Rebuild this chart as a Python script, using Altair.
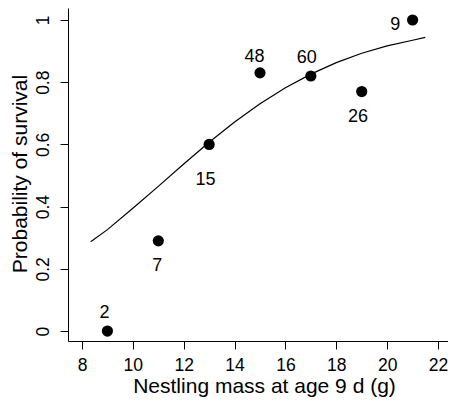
import altair as alt
import pandas as pd

# Observed survival by nestling mass class
mass = [9, 11, 13, 15, 17, 19, 21]
survival = [0.0, 0.29, 0.60, 0.83, 0.82, 0.77, 1.0]
counts = ["2", "7", "15", "48", "60", "26", "9"]
# label anchor points (data units), as placed in the original
label_x = [8.88, 10.96, 12.86, 14.78, 16.84, 18.85, 20.32]
label_y = [0.057, 0.21, 0.486, 0.882, 0.877, 0.687, 0.984]

# Fitted curve
curve_x = [8.34, 9, 10, 11, 12, 13, 14, 15, 16, 17, 18, 19, 20, 21, 21.5]
curve_y = [0.287, 0.326, 0.395, 0.465, 0.537, 0.607, 0.672, 0.731, 0.782,
           0.826, 0.863, 0.893, 0.917, 0.935, 0.944]

x_ticks = [8, 10, 12, 14, 16, 18, 20, 22]
y_ticks = [0, 0.2, 0.4, 0.6, 0.8, 1]

pts = pd.DataFrame({"mass": mass, "surv": survival})
labs = pd.DataFrame({"lx": label_x, "ly": label_y, "n": counts})
curve = pd.DataFrame({"cx": curve_x, "cy": curve_y})

FONT = "Liberation Sans"

xscale = alt.Scale(domain=[7.4495, 22.393], nice=False, zero=False)
yscale = alt.Scale(domain=[-0.032, 1.0386], nice=False, zero=False)

xaxis = alt.Axis(values=x_ticks, title="Nestling mass at age 9 d (g)", grid=False,
                 tickSize=8, labelPadding=7, labelFontSize=17.5,
                 labelFlush=False, labelBound=False,
                 titleFontSize=21, titleFontWeight="normal",
                 titleX=196, titleY=51, titleBaseline="alphabetic",
                 titleAlign="center")
yaxis = alt.Axis(values=y_ticks, title="Probability of survival", grid=False,
                 tickSize=8, labelAngle=270, labelAlign="center",
                 labelBaseline="alphabetic", labelPadding=12,
                 labelFontSize=17.5, format="~g",
                 titleFontSize=21, titleFontWeight="normal",
                 titleAngle=270, titleX=-41.5, titleY=165.5,
                 titleBaseline="alphabetic", titleAlign="center")

line = alt.Chart(curve).mark_line(color="black", strokeWidth=1.2).encode(
    x=alt.X("cx:Q", scale=xscale, axis=xaxis),
    y=alt.Y("cy:Q", scale=yscale, axis=yaxis),
    order="cx:Q",
)

points = alt.Chart(pts).mark_circle(color="black", opacity=1, size=125).encode(
    x=alt.X("mass:Q", scale=xscale, axis=xaxis),
    y=alt.Y("surv:Q", scale=yscale, axis=yaxis),
)

text = alt.Chart(labs).mark_text(font=FONT, fontSize=18, color="black",
                                  align="center", baseline="middle").encode(
    x=alt.X("lx:Q", scale=xscale, axis=xaxis),
    y=alt.Y("ly:Q", scale=yscale, axis=yaxis),
    text="n:N",
)

chart = alt.layer(line, points, text).properties(
    width=380, height=333,
    autosize=alt.AutoSizeParams(type="none"),
    padding={"left": 60, "top": 0, "right": 0, "bottom": 59},
    background="white",
).configure_view(stroke=None).configure_axis(
    domainColor="black", tickColor="black", labelColor="black",
    titleColor="black", domainWidth=1, tickWidth=1,
    labelFont=FONT, titleFont=FONT,
)

chart.save("out.html", embed_options={"renderer": "svg", "actions": False})
